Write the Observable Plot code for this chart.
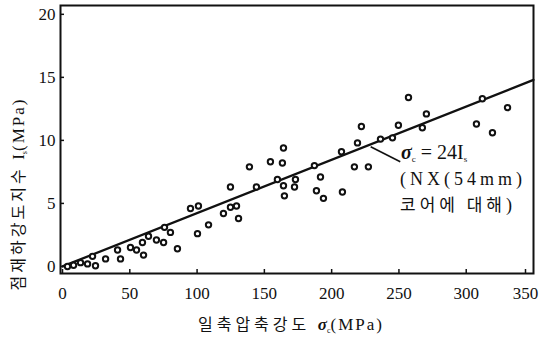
<!DOCTYPE html>
<html><head><meta charset="utf-8">
<script src="https://cdn.jsdelivr.net/npm/d3@7"></script>
<script src="https://cdn.jsdelivr.net/npm/@observablehq/plot@0.6"></script>
<style>
body{margin:0;background:#fff;}
#chart{width:540px;height:338px;}
</style></head><body><div id="chart"></div>
<script>
// Uniaxial compressive strength (MPa)
const sigmaC = [3.7, 8.2, 13.4, 18.6, 22.3, 24.5, 32.0, 40.9, 43.1, 50.5, 55.0, 60.2, 59.4, 63.9, 69.8, 75.1, 75.8, 80.2, 85.4, 95.1,
  101.0, 100.3, 108.5, 119.6, 124.8, 124.8, 129.3, 130.8, 138.9, 144.1, 154.5, 163.4, 164.2, 159.7, 164.2, 173.1, 172.4, 164.9,
  187.2, 188.7, 191.7, 193.9, 207.3, 208.0, 216.9, 219.2, 222.1, 227.3, 236.3, 245.2, 249.6, 257.1, 267.4, 270.4, 307.6, 312.0, 319.5, 330.7];
// Point load strength index Is (MPa)
const pointLoad = [0.0, 0.1, 0.3, 0.2, 0.8, 0.05, 0.6, 1.3, 0.6, 1.5, 1.3, 0.9, 1.9, 2.4, 2.1, 1.9, 3.1, 2.7, 1.4, 4.6,
  4.8, 2.6, 3.3, 4.2, 6.3, 4.7, 4.8, 3.8, 7.9, 6.3, 8.3, 8.2, 9.4, 6.9, 6.4, 6.9, 6.3, 5.6,
  8.0, 6.0, 7.1, 5.4, 9.1, 5.9, 7.9, 9.8, 11.1, 7.9, 10.1, 10.2, 11.2, 13.4, 11.0, 12.1, 11.3, 13.3, 10.6, 12.6];
// Fit line sigma_c = 24 Is
const fitSigma = [0, 350];
const fitIs = [0, 14.8];
const xTicks = [0, 50, 100, 150, 200, 250, 300];
const xTickLast = [350];
const yTicks = [0, 5, 10, 15, 20];

const points = sigmaC.map((s, i) => ({s, i: pointLoad[i]}));
const fit = fitSigma.map((s, i) => ({s, i: fitIs[i]}));

const serif = "'Liberation Serif', 'DejaVu Serif', serif";
const kr = "'Noto Sans CJK KR', sans-serif";

const plot = Plot.plot({
  width: 540, height: 338,
  marginLeft: 60, marginRight: 7, marginTop: 5, marginBottom: 65,
  style: {fontSize: "16px", color: "#111", background: "#fff"},
  x: {domain: [-1.5, 350]},
  y: {domain: [-0.56, 20.7]},
  marks: [
    Plot.axisX(xTicks, {tickSize: -4, tickPadding: 17, label: null, fontSize: 17, strokeWidth: 1.5}),
    Plot.axisX(xTickLast, {tickSize: -4, tickPadding: 17, label: null, fontSize: 17, strokeWidth: 1.5, dx: -8}),
    Plot.axisY(yTicks, {tickSize: -4, tickPadding: 9, label: null, fontSize: 17, strokeWidth: 1.5}),
    Plot.line(fit, {x: "s", y: "i", stroke: "#111", strokeWidth: 2.3}),
    Plot.dot(points, {x: "s", y: "i", r: 2.7, stroke: "#111", strokeWidth: 2, fill: "white"}),
    Plot.link([{x1: 229, y1: 9.5, x2: 251, y2: 8.3}], {x1: "x1", y1: "y1", x2: "x2", y2: "y2", stroke: "#111", strokeWidth: 1.6}),
    Plot.frame({stroke: "#111", strokeWidth: 2})
  ]
});
document.getElementById("chart").appendChild(plot);

const svg = d3.select(plot);
svg.attr("font-family", serif).style("font-family", serif);
svg.selectAll("g").attr("font-family", null);
svg.selectAll("text").style("font-family", serif);
// annotation
const ann = svg.append("text").attr("x", 401).attr("y", 159).attr("text-anchor", "start").style("font-family", serif).attr("font-size", 20).attr("fill", "#111");
ann.append("tspan").attr("font-style", "italic").attr("font-weight", "bold").text("σ");
ann.append("tspan").attr("font-size", 9).attr("dy", 3).text("c");
ann.append("tspan").attr("dy", -3).text(" = 24I");
ann.append("tspan").attr("font-size", 9).attr("dy", 3).text("s");

svg.append("text").attr("x", 400).attr("y", 185).attr("text-anchor", "start").style("font-family", serif).attr("font-size", 18)
  .attr("letter-spacing", 4).attr("fill", "#111").text("(NX(54mm)");
const l3 = svg.append("text").attr("x", 400).attr("y", 211).attr("text-anchor", "start").attr("fill", "#111").attr("font-size", 17);
l3.append("tspan").style("font-family", kr).attr("letter-spacing", 4).text("코어에 대해");
l3.append("tspan").style("font-family", serif).attr("font-size", 18).text(")");

// x axis title
const xt = svg.append("text").attr("x", 291).attr("y", 330).attr("text-anchor", "middle").attr("fill", "#111");
xt.append("tspan").style("font-family", kr).attr("font-size", 16).attr("letter-spacing", 4).text("일축압축강도 ");
xt.append("tspan").style("font-family", serif).attr("font-size", 17).attr("font-style", "italic").attr("font-weight", "bold").text("σ");
xt.append("tspan").style("font-family", serif).attr("font-size", 8).attr("dy", 3).text("c");
xt.append("tspan").style("font-family", serif).attr("font-size", 17).attr("dy", -3).attr("letter-spacing", 2).text("(MPa)");

// y axis title
const yt = svg.append("text").attr("transform", "translate(24,194) rotate(-90)").attr("text-anchor", "middle").attr("fill", "#111");
yt.append("tspan").style("font-family", kr).attr("font-size", 16).attr("letter-spacing", 3).text("점재하강도지수 ");
yt.append("tspan").style("font-family", serif).attr("font-size", 17).text("I");
yt.append("tspan").style("font-family", serif).attr("font-size", 8).attr("dy", 3).text("s");
yt.append("tspan").style("font-family", serif).attr("font-size", 17).attr("dy", -3).attr("letter-spacing", 2).text("(MPa)");
</script></body></html>
